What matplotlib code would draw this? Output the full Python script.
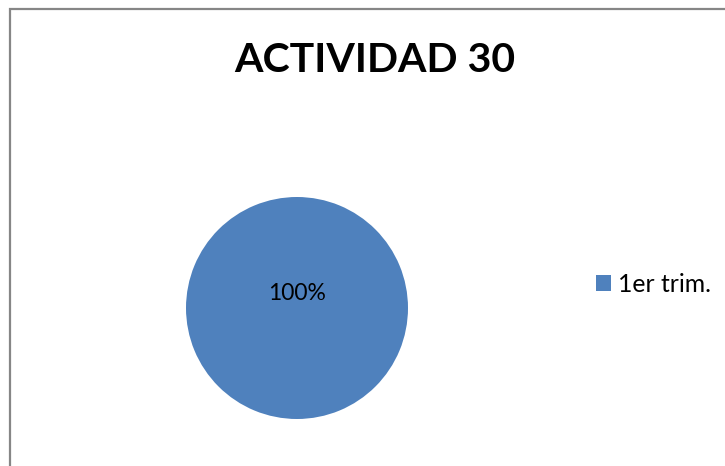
import matplotlib
matplotlib.use("Agg")
import matplotlib.pyplot as plt
from matplotlib.patches import Rectangle

# datos del grafico
categorias = ["1er trim."]
valores = [1]
titulo = "ACTIVIDAD 30"
colores = ["#4F81BD"]

plt.rcParams['font.family'] = ['Lato', 'DejaVu Sans']

fig = plt.figure(figsize=(7.25, 4.66), dpi=100)
W, H = 725, 466

# marco gris del area del grafico
fig.patches.append(Rectangle((9.5 / W, -0.1), 1.2, 1 - 8.5 / H + 0.1,
                             transform=fig.transFigure, fill=False,
                             edgecolor="#868686", linewidth=1.6))

# pastel
cx, cy, r = 297, H - 308, 111
ax = fig.add_axes([(cx - r) / W, (cy - r) / H, 2 * r / W, 2 * r / H])
wedges, textos, pct = ax.pie(valores, colors=colores, startangle=-90,
                             autopct="%1.0f%%", pctdistance=0.135,
                             radius=1, textprops={"fontsize": 16.5})
ax.set_xlim(-1, 1)
ax.set_ylim(-1, 1)
ax.set_aspect("equal")

fig.text(375 / W, 1 - 61 / H, titulo, ha="center", va="center",
         fontsize=29.5, fontweight="bold")

fig.legend(wedges, categorias, loc="center left",
           bbox_to_anchor=(596 / W, 1 - 284 / H), frameon=False,
           fontsize=17.8, handlelength=0.6, handleheight=0.6,
           handletextpad=0.3, borderaxespad=0, borderpad=0)

fig.savefig("out.png", dpi=100)
